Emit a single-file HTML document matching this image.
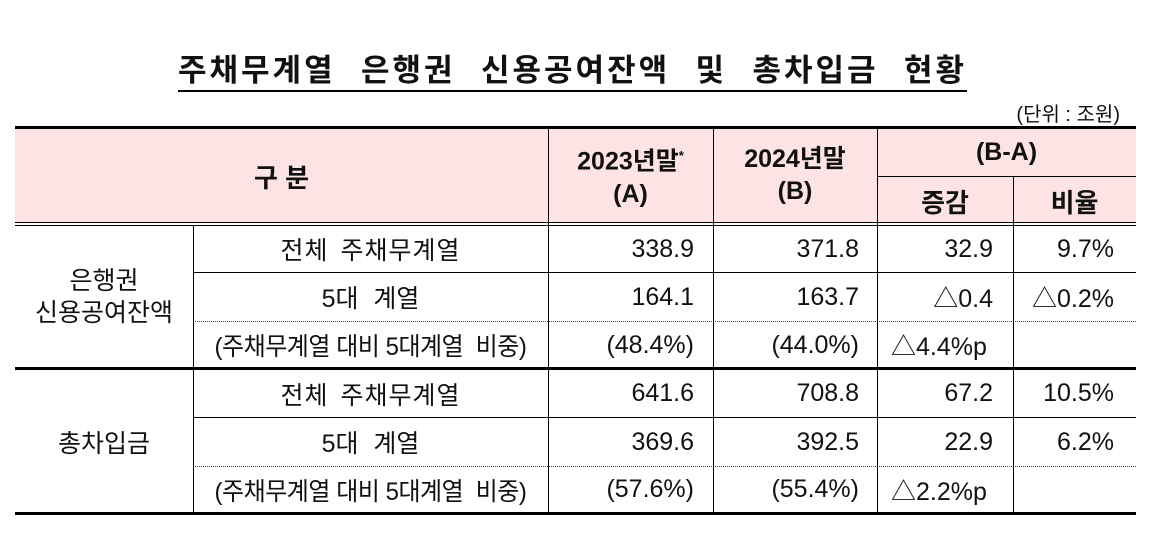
<!DOCTYPE html>
<html><head><meta charset="utf-8">
<style>
html,body{margin:0;padding:0;background:#fff;}
body{width:1153px;height:553px;position:relative;overflow:hidden;font-family:"Liberation Sans","Noto Sans CJK KR",sans-serif;color:#111;}
.a{position:absolute;}
.hl{position:absolute;background:#000;}
.vl{position:absolute;background:#000;width:1px;}
.dl{position:absolute;height:0;border-top:1px dotted #444;}
.c{position:absolute;display:flex;align-items:center;justify-content:center;font-size:25px;white-space:nowrap;}
.r{position:absolute;display:flex;align-items:center;justify-content:flex-end;font-size:25px;white-space:nowrap;}
.b{font-weight:bold;}
.cond{display:inline-block;transform:scaleX(0.96);font-size:25px;letter-spacing:-0.5px;}
</style></head><body>
<div class="a" style="left:178px;top:52px;width:789px;height:38px;display:flex;justify-content:space-between;font-size:31px;font-weight:bold;letter-spacing:3px;line-height:38px;border-bottom:2px solid #000;">
<span>주채무계열</span><span>은행권</span><span>신용공여잔액</span><span>및</span><span>총차입금</span><span>현황</span></div>
<div class="a" style="right:33px;top:98px;font-size:20px;">(단위 : 조원)</div>

<div class="a" style="left:15px;top:129px;width:1121px;height:94px;background:#fde3e3;"></div>
<div class="hl" style="left:15px;top:126px;width:1121px;height:3px;"></div>
<div class="hl" style="left:15px;top:222px;width:1121px;height:1px;"></div>
<div class="hl" style="left:15px;top:225px;width:1121px;height:1px;"></div>
<div class="hl" style="left:877px;top:176px;width:259px;height:1px;"></div>
<div class="hl" style="left:193px;top:272px;width:943px;height:1px;"></div>
<div class="dl" style="left:193px;top:321px;width:943px;"></div>
<div class="hl" style="left:15px;top:367px;width:1121px;height:3px;"></div>
<div class="hl" style="left:193px;top:417px;width:943px;height:1px;"></div>
<div class="dl" style="left:193px;top:466px;width:943px;"></div>
<div class="hl" style="left:15px;top:512px;width:1121px;height:3px;"></div>

<div class="vl" style="left:548px;top:129px;height:384px;"></div>
<div class="vl" style="left:713px;top:129px;height:384px;"></div>
<div class="vl" style="left:877px;top:129px;height:384px;"></div>
<div class="vl" style="left:1013px;top:176px;height:337px;"></div>
<div class="vl" style="left:193px;top:226px;height:287px;"></div>

<div class="c b" style="left:15px;top:129px;width:533px;height:94px;font-size:26px;">구 분</div>
<div class="c b" style="left:548px;top:135px;width:165px;height:80px;flex-direction:column;line-height:32px;font-size:25px;"><span>2023년말<sup style="font-size:13px">*</sup></span><span>(A)</span></div>
<div class="c b" style="left:713px;top:135px;width:164px;height:80px;flex-direction:column;line-height:32px;font-size:25px;"><span>2024년말</span><span>(B)</span></div>
<div class="c b" style="left:877px;top:129px;width:259px;height:47px;">(B-A)</div>
<div class="c b" style="left:877px;top:178px;width:136px;height:46px;font-size:26px;">증감</div>
<div class="c b" style="left:1013px;top:178px;width:123px;height:46px;font-size:26px;">비율</div>

<div class="c" style="left:15px;top:226px;width:178px;height:142px;flex-direction:column;line-height:32px;"><span>은행권</span><span>신용공여잔액</span></div>
<div class="c" style="left:15px;top:370px;width:178px;height:143px;">총차입금</div>

<div class="c" style="left:193px;top:226px;width:355px;height:46px;word-spacing:4px;letter-spacing:1px;">전체 주채무계열</div>
<div class="c" style="left:193px;top:273px;width:355px;height:48px;word-spacing:8px;">5대 계열</div>
<div class="c" style="left:193px;top:322px;width:355px;height:46px;"><span class="cond">(주채무계열 대비 5대계열&nbsp;&nbsp;비중)</span></div>
<div class="c" style="left:193px;top:370px;width:355px;height:47px;word-spacing:4px;letter-spacing:1px;">전체 주채무계열</div>
<div class="c" style="left:193px;top:418px;width:355px;height:48px;word-spacing:8px;">5대 계열</div>
<div class="c" style="left:193px;top:467px;width:355px;height:45px;"><span class="cond">(주채무계열 대비 5대계열&nbsp;&nbsp;비중)</span></div>

<div class="r" style="left:548px;top:226px;width:146px;height:46px;">338.9</div>
<div class="r" style="left:713px;top:226px;width:146px;height:46px;">371.8</div>
<div class="r" style="left:877px;top:226px;width:116px;height:46px;">32.9</div>
<div class="r" style="left:1013px;top:226px;width:101px;height:46px;">9.7%</div>

<div class="r" style="left:548px;top:273px;width:146px;height:48px;">164.1</div>
<div class="r" style="left:713px;top:273px;width:146px;height:48px;">163.7</div>
<div class="r" style="left:877px;top:273px;width:116px;height:48px;">△0.4</div>
<div class="r" style="left:1013px;top:273px;width:101px;height:48px;">△0.2%</div>

<div class="r" style="left:548px;top:322px;width:146px;height:46px;">(48.4%)</div>
<div class="r" style="left:713px;top:322px;width:146px;height:46px;">(44.0%)</div>
<div class="c" style="left:891px;top:322px;height:46px;">△4.4%p</div>

<div class="r" style="left:548px;top:370px;width:146px;height:47px;">641.6</div>
<div class="r" style="left:713px;top:370px;width:146px;height:47px;">708.8</div>
<div class="r" style="left:877px;top:370px;width:116px;height:47px;">67.2</div>
<div class="r" style="left:1013px;top:370px;width:101px;height:47px;">10.5%</div>

<div class="r" style="left:548px;top:418px;width:146px;height:48px;">369.6</div>
<div class="r" style="left:713px;top:418px;width:146px;height:48px;">392.5</div>
<div class="r" style="left:877px;top:418px;width:116px;height:48px;">22.9</div>
<div class="r" style="left:1013px;top:418px;width:101px;height:48px;">6.2%</div>

<div class="r" style="left:548px;top:467px;width:146px;height:45px;">(57.6%)</div>
<div class="r" style="left:713px;top:467px;width:146px;height:45px;">(55.4%)</div>
<div class="c" style="left:891px;top:467px;height:45px;">△2.2%p</div>
</body></html>
